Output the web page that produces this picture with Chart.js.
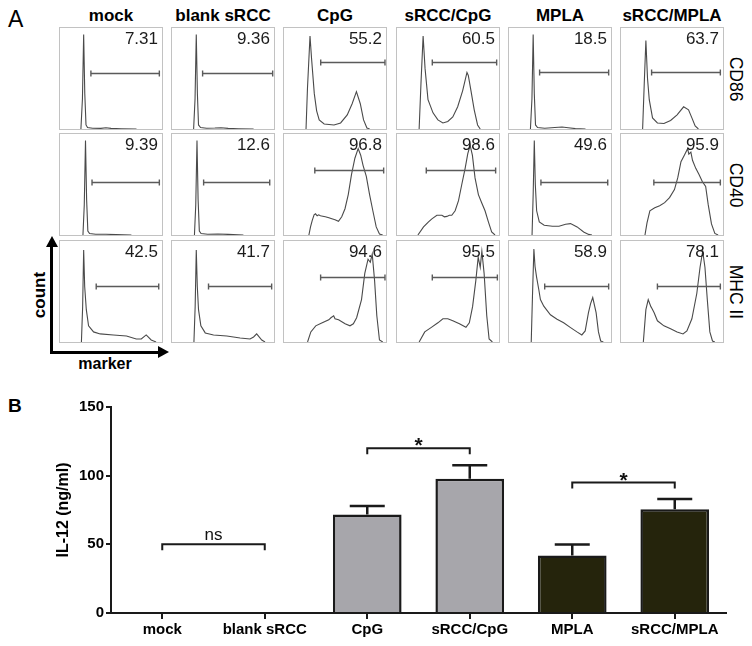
<!DOCTYPE html>
<html lang="en">
<head>
<meta charset="UTF-8">
<title>DC activation and IL-12</title>
<script src="https://cdn.jsdelivr.net/npm/chart.js"></script>
<style>
  body { margin: 0; background: #fff; }
  #fig { position: relative; width: 752px; height: 646px; overflow: hidden; background: #fff;
         font-family: "Liberation Sans", Arial, sans-serif; color: #000; }
  .lbl { position: absolute; white-space: nowrap; line-height: 1; }
  .colTitle { font-weight: bold; font-size: 17px; transform: translateX(-50%); top: 7px; }
  .rowLbl { font-size: 17.5px; transform: translate(-50%, -50%) rotate(90deg); }
  .panel { position: absolute; width: 102px; height: 101px; border: 1px solid #c2c2c2; }
  .panel canvas { display: block; }
  .bar { position: absolute; background: #000; }
  .tri { position: absolute; width: 0; height: 0; }
</style>
</head>
<body>
<div id="fig">
  <div class="lbl" style="left:8px; top:8px; font-size:23px;">A</div>
  <div class="lbl" style="left:8px; top:396px; font-size:19px; font-weight:bold;">B</div>

  <!-- count / marker arrows -->
  <div class="bar" style="left:50px; top:244px; width:3px; height:109px;"></div>
  <div class="tri" style="left:45.5px; top:236px; border-left:6px solid transparent; border-right:6px solid transparent; border-bottom:11px solid #000;"></div>
  <div class="bar" style="left:50px; top:350.5px; width:110px; height:3px;"></div>
  <div class="tri" style="left:158px; top:346px; border-top:6px solid transparent; border-bottom:6px solid transparent; border-left:11px solid #000;"></div>
  <div class="lbl" style="left:39px; top:295px; font-size:17px; font-weight:bold; transform:translate(-50%,-50%) rotate(-90deg);">count</div>
  <div class="lbl" style="left:105px; top:364px; font-size:16px; font-weight:bold; transform:translate(-50%,-50%);">marker</div>

  <div id="panelsA"></div>
  <canvas id="chartB" width="752" height="256" style="position:absolute; left:0; top:390px;"></canvas>
</div>

<script>
// ---------- panel A data ----------
const groups = ['mock', 'blank sRCC', 'CpG', 'sRCC/CpG', 'MPLA', 'sRCC/MPLA'];
const markers = ['CD86', 'CD40', 'MHC II'];

// percent positive in the gate, per marker row
const pctCD86 = ['7.31', '9.36', '55.2', '60.5', '18.5', '63.7'];
const pctCD40 = ['9.39', '12.6', '96.8', '98.6', '49.6', '95.9'];
const pctMHC  = ['42.5', '41.7', '94.6', '95.5', '58.9', '78.1'];

// gate range on the marker axis (0-100) and gate level on the count axis (0-100)
const gateFromCD86 = [30.3, 30, 36, 34.6, 30, 30];
const gateToCD86   = [97.4, 98.7, 99, 97.7, 97.7, 97.4];
const gateYCD86    = [55, 55, 66.5, 66.5, 56, 56];
const gateFromCD40 = [31.4, 31, 30.2, 28.7, 31.3, 32.2];
const gateToCD40   = [97.4, 95.8, 97.7, 96.7, 96.8, 97.4];
const gateYCD40    = [52.6, 52.6, 64, 64, 52.6, 52.6];
const gateFromMHC  = [35.5, 35.8, 35.9, 34.6, 35, 35.7];
const gateToMHC    = [96.8, 97.7, 99, 98.4, 97.7, 97.4];
const gateYMHC     = [55.5, 55.5, 64, 64, 55.5, 55.5];

// histograms: [marker, count]
const cd86Mock = [[20.5,0],[22,30],[23.2,93.5],[24.3,35],[25.5,4],[27,1.5],[32,0.7],[40,0.6],[45,1.2],[50,0.6],[60,0.3],[75,0]];
const cd86Blank = [[21.2,0],[22.6,30],[23.8,93.5],[24.9,35],[26,4],[28,1.5],[34,0.8],[42,1],[48,1.3],[55,0.6],[65,0.3],[80,0]];
const cd86CpG = [[21.6,0],[23,40],[25.5,92],[27,70],[29.7,35],[32,18],[34.5,9],[39.4,5],[49,4],[55.5,6],[62,14],[66.8,25],[71,37],[74.8,25],[78,9],[81.3,1],[84,0]];
const cd86SrccCpG = [[21.7,0],[23.5,45],[25.6,92],[27.5,60],[30.4,29],[35.3,16],[40.1,9],[45,6],[49.8,7.5],[54.7,12],[59.5,22],[64.4,38],[68.6,56],[69.9,53],[72.5,38],[75.7,19],[79,4],[81.6,0]];
const cd86MPLA = [[21,0],[22.5,30],[23.7,93.5],[24.8,35],[26,4],[28,1.5],[35,0.8],[45,1.5],[52,2],[58,1.2],[65,0.4],[75,0]];
const cd86SrccMPLA = [[21.2,0],[22.8,45],[24.4,87.7],[26,50],[27.7,29],[30.9,11],[35.7,6],[42.1,5.5],[48.6,8.5],[55,14],[61.4,22],[66.2,19],[69.5,11],[72.7,3],[75.9,0]];

const cd40Mock = [[22.5,0],[23.8,30],[25,93.5],[26.1,35],[27.3,4],[29,1.5],[35,0.8],[45,0.7],[55,0.4],[70,0]];
const cd40Blank = [[22,0],[23.3,30],[24.5,93.5],[25.6,35],[26.8,4],[28.5,1.5],[35,0.8],[45,1],[55,0.6],[70,0]];
const cd40CpG = [[24.4,0],[26,8],[27.7,14.5],[29.5,20],[30.9,21],[32.5,19],[34,20],[35.7,19],[38,18.5],[40.5,18],[44,17],[46.9,16],[50,15],[53.4,13.5],[56.6,18],[59.8,26],[63,40],[66.2,60],[69.5,76],[72.7,85.5],[75.2,79],[77.5,69],[80.7,58],[83.9,40],[87.1,24],[90.4,8],[93.6,1],[96.8,0]];
const cd40SrccCpG = [[20.5,0],[26,8],[30.9,13],[34.2,16],[39.1,19.5],[44,19.5],[46.5,18],[48.9,18.4],[51.3,19.5],[53.7,19.5],[57,24],[60.3,34],[63.5,50],[66.8,66],[69.4,80.6],[71.7,88.7],[73.9,79],[76.5,56.5],[79.8,40],[83,32],[86.3,24],[89.6,13],[92.8,3],[96.1,0]];
const cd40MPLA = [[22.6,0],[23.7,40],[24.8,93.5],[25.8,50],[27.1,24],[29.7,13],[34.5,9.7],[42.6,8.7],[49,8.7],[55.5,10.6],[60.3,11.3],[66.8,8],[73.2,3],[78.1,0.6],[81.3,0]];
const cd40SrccMPLA = [[23.5,0],[25.5,12],[28.3,24],[33.1,27],[37.9,29],[42.8,32],[47.6,37],[52.4,45],[55.6,56.5],[58.8,72.6],[62.1,79],[65.3,85.5],[66.5,80],[68.5,82],[70.1,74],[73.3,66],[76.5,60],[79.7,53],[83,48],[85.5,30],[88.7,11],[92,1.6],[95.2,0]];

const mhcMock = [[21,0],[22.2,35],[23.2,91],[24.2,55],[25.8,32],[28,16],[32.9,10],[39.4,8],[52.3,7],[65.2,6],[74.8,3],[79.7,3],[84.5,7],[89.4,2],[94.2,0]];
const mhcBlank = [[21.5,0],[22.7,35],[23.8,91],[24.8,55],[26,32],[28.3,16],[32.6,9],[40.7,7],[53.7,6],[66.8,4],[76.5,3],[80,5],[83,8],[88,2],[91.2,0]];
const mhcCpG = [[23.1,0],[26.3,10],[31.1,16],[37.5,19],[43.9,22],[46,24],[48.7,26],[50,23],[53.5,22],[59.9,18],[64.7,16],[68,18],[71.2,24],[76,42],[79.2,68],[82.4,82],[84.6,79],[86.5,87],[88.8,61],[91,26],[93.6,2],[96.8,0]];
const mhcSrccCpG = [[21.7,0],[27.2,10],[33.7,14.5],[40.1,19],[45,23],[49.8,23],[54.7,21],[61.2,18],[67.6,14.5],[70.9,19],[74.1,35],[77.3,61],[79.6,84],[81.6,74],[83.2,90],[85.4,68],[88,26],[90.3,3],[93.5,0]];
const mhcMPLA = [[21.8,0],[23,45],[24.4,92],[25.5,75],[27,64.5],[29.2,52],[30.8,42],[34.1,35.5],[40.6,27],[47.1,22.6],[53.6,19],[60,14.5],[66.6,10],[71.4,7],[74.7,11],[77.9,29],[80,38],[82.1,44],[85.4,29],[87.7,10],[89.9,1],[92.5,0]];
const mhcSrccMPLA = [[21.9,0],[24.4,32],[26.7,42],[29.3,35],[30.5,33],[32.5,29],[35.7,21],[42.1,16],[48.6,13],[55,10],[60.8,8],[64.6,11],[69.5,23],[74.3,48],[77.5,74],[80.1,90],[82.3,74],[84.6,42],[87.1,10],[89.7,1],[92,0]];

// ---------- panel B data ----------
const il12Mean = [0, 0, 71.8, 97.7, 41.9, 75.6];
const il12Sem  = [0, 0, 6.2, 9.8, 8.0, 7.5];
const il12Ticks = [0, 50, 100, 150];
const sigFrom  = [0, 2, 4];
const sigTo    = [1, 3, 5];
const sigLevel = [50, 120, 95];
const sigText  = ['ns', '*', '*'];

const FONT = '"Liberation Sans", Arial, sans-serif';

// ---------- build panel A ----------
const rows = [
  { curves: [cd86Mock, cd86Blank, cd86CpG, cd86SrccCpG, cd86MPLA, cd86SrccMPLA], pct: pctCD86, gFrom: gateFromCD86, gTo: gateToCD86, gY: gateYCD86 },
  { curves: [cd40Mock, cd40Blank, cd40CpG, cd40SrccCpG, cd40MPLA, cd40SrccMPLA], pct: pctCD40, gFrom: gateFromCD40, gTo: gateToCD40, gY: gateYCD40 },
  { curves: [mhcMock, mhcBlank, mhcCpG, mhcSrccCpG, mhcMPLA, mhcSrccMPLA], pct: pctMHC, gFrom: gateFromMHC, gTo: gateToMHC, gY: gateYMHC }
];
const panelLeft = [59, 171, 283, 396, 508, 620];
const panelTop = [27, 133, 240];

const fig = document.getElementById('fig');
const holder = document.getElementById('panelsA');

groups.forEach((g, c) => {
  const d = document.createElement('div');
  d.className = 'lbl colTitle';
  d.style.left = (panelLeft[c] + 52) + 'px';
  d.textContent = g;
  fig.appendChild(d);
});
markers.forEach((m, r) => {
  const d = document.createElement('div');
  d.className = 'lbl rowLbl';
  d.style.left = '735px';
  d.style.top = (panelTop[r] + 51.5) + 'px';
  d.textContent = m;
  fig.appendChild(d);
});

// gate bar + percentage
const gatePlugin = {
  id: 'gate',
  afterDatasetsDraw(chart, args, opts) {
    const { ctx, scales: { x, y }, chartArea } = chart;
    const x1 = x.getPixelForValue(opts.from), x2 = x.getPixelForValue(opts.to);
    const yy = Math.round(y.getPixelForValue(opts.level)) + 0.5;
    ctx.save();
    ctx.strokeStyle = '#5a5a5a';
    ctx.lineWidth = 1.4;
    ctx.beginPath();
    ctx.moveTo(x1, yy); ctx.lineTo(x2, yy);
    ctx.moveTo(x1, yy - 3); ctx.lineTo(x1, yy + 3);
    ctx.moveTo(x2, yy - 3); ctx.lineTo(x2, yy + 3);
    ctx.stroke();
    ctx.fillStyle = '#1c1c1c';
    ctx.font = '17px ' + FONT;
    ctx.textAlign = 'right';
    ctx.textBaseline = 'alphabetic';
    ctx.fillText(opts.text, chartArea.right - 4, chartArea.top + 15.5);
    ctx.restore();
  }
};

rows.forEach((row, r) => {
  row.curves.forEach((curve, c) => {
    const box = document.createElement('div');
    box.className = 'panel';
    box.style.left = panelLeft[c] + 'px';
    box.style.top = panelTop[r] + 'px';
    const cv = document.createElement('canvas');
    cv.width = 102; cv.height = 101;
    box.appendChild(cv);
    holder.appendChild(box);

    new Chart(cv.getContext('2d'), {
      type: 'line',
      data: {
        datasets: [{
          data: curve.map(p => ({ x: p[0], y: p[1] })),
          borderColor: '#4a4a4a',
          borderWidth: 1.1,
          pointRadius: 0,
          tension: 0,
          fill: false
        }]
      },
      options: {
        responsive: false,
        animation: false,
        layout: { padding: 0 },
        plugins: {
          legend: { display: false },
          tooltip: { enabled: false },
          gate: { from: row.gFrom[c], to: row.gTo[c], level: row.gY[c], text: row.pct[c] }
        },
        scales: {
          x: { type: 'linear', min: 0, max: 100, display: false },
          y: { type: 'linear', min: 0, max: 100, display: false }
        }
      },
      plugins: [gatePlugin]
    });
  });
});

// ---------- panel B ----------
const errorBarPlugin = {
  id: 'errbars',
  afterDatasetsDraw(chart) {
    const { ctx, scales: { y } } = chart;
    const bars = chart.getDatasetMeta(0).data;
    ctx.save();
    ctx.strokeStyle = '#1a1a1a';
    ctx.lineWidth = 2.5;
    bars.forEach((bar, i) => {
      if (!il12Sem[i]) return;
      const top = y.getPixelForValue(il12Mean[i] + il12Sem[i]);
      ctx.beginPath();
      ctx.moveTo(bar.x, bar.y);
      ctx.lineTo(bar.x, top);
      ctx.moveTo(bar.x - 17.5, top);
      ctx.lineTo(bar.x + 17.5, top);
      ctx.stroke();
    });
    ctx.restore();
  }
};

const bracketPlugin = {
  id: 'brackets',
  afterDatasetsDraw(chart) {
    const { ctx, scales: { x, y } } = chart;
    ctx.save();
    ctx.strokeStyle = '#1a1a1a';
    ctx.fillStyle = '#111';
    ctx.lineWidth = 2;
    ctx.textAlign = 'center';
    sigFrom.forEach((f, k) => {
      const x1 = x.getPixelForValue(f), x2 = x.getPixelForValue(sigTo[k]);
      const yy = y.getPixelForValue(sigLevel[k]);
      ctx.beginPath();
      ctx.moveTo(x1, yy + 6); ctx.lineTo(x1, yy); ctx.lineTo(x2, yy); ctx.lineTo(x2, yy + 6);
      ctx.stroke();
      if (sigText[k] === 'ns') {
        ctx.font = '17px ' + FONT;
        ctx.textBaseline = 'alphabetic';
        ctx.fillText(sigText[k], (x1 + x2) / 2, yy - 4);
      } else {
        ctx.font = 'bold 21px ' + FONT;
        ctx.textBaseline = 'alphabetic';
        ctx.fillText(sigText[k], (x1 + x2) / 2, yy + 4);
      }
    });
    ctx.restore();
  }
};

const axisFont = { family: FONT, weight: 'bold', size: 15 };

new Chart(document.getElementById('chartB').getContext('2d'), {
  type: 'bar',
  data: {
    labels: groups,
    datasets: [{
      data: il12Mean,
      backgroundColor: ['#a7a6ab', '#a7a6ab', '#a7a6ab', '#a7a6ab', '#25240c', '#25240c'],
      borderColor: '#1a1a1a',
      borderWidth: [0, 0, 2.5, 2.5, 2.5, 2.5],
      borderSkipped: 'start',
      barPercentage: 0.67,
      categoryPercentage: 1
    }]
  },
  options: {
    responsive: false,
    animation: false,
    layout: { padding: { left: 0, right: 26, top: 17, bottom: 0 } },
    plugins: { legend: { display: false }, tooltip: { enabled: false } },
    scales: {
      x: {
        grid: { display: true, drawOnChartArea: false, offset: false, tickLength: 6, color: '#1a1a1a', lineWidth: 2 },
        border: { display: true, color: '#1a1a1a', width: 2 },
        ticks: { color: '#000', font: axisFont, padding: 2, maxRotation: 0, autoSkip: false },
        afterFit: s => { s.height = 33; }
      },
      y: {
        min: 0, max: 150,
        afterBuildTicks: s => { s.ticks = il12Ticks.map(v => ({ value: v })); },
        grid: { display: true, drawOnChartArea: false, tickLength: 5, color: '#1a1a1a', lineWidth: 2 },
        border: { display: true, color: '#1a1a1a', width: 2 },
        ticks: { color: '#000', font: axisFont, padding: 2 },
        title: { display: true, text: 'IL-12 (ng/ml)', color: '#000',
                 font: { family: FONT, weight: 'bold', size: 16 }, padding: { top: 54, bottom: 0 } },
        afterFit: s => { s.width = 111; }
      }
    }
  },
  plugins: [errorBarPlugin, bracketPlugin]
});
</script>
</body>
</html>
